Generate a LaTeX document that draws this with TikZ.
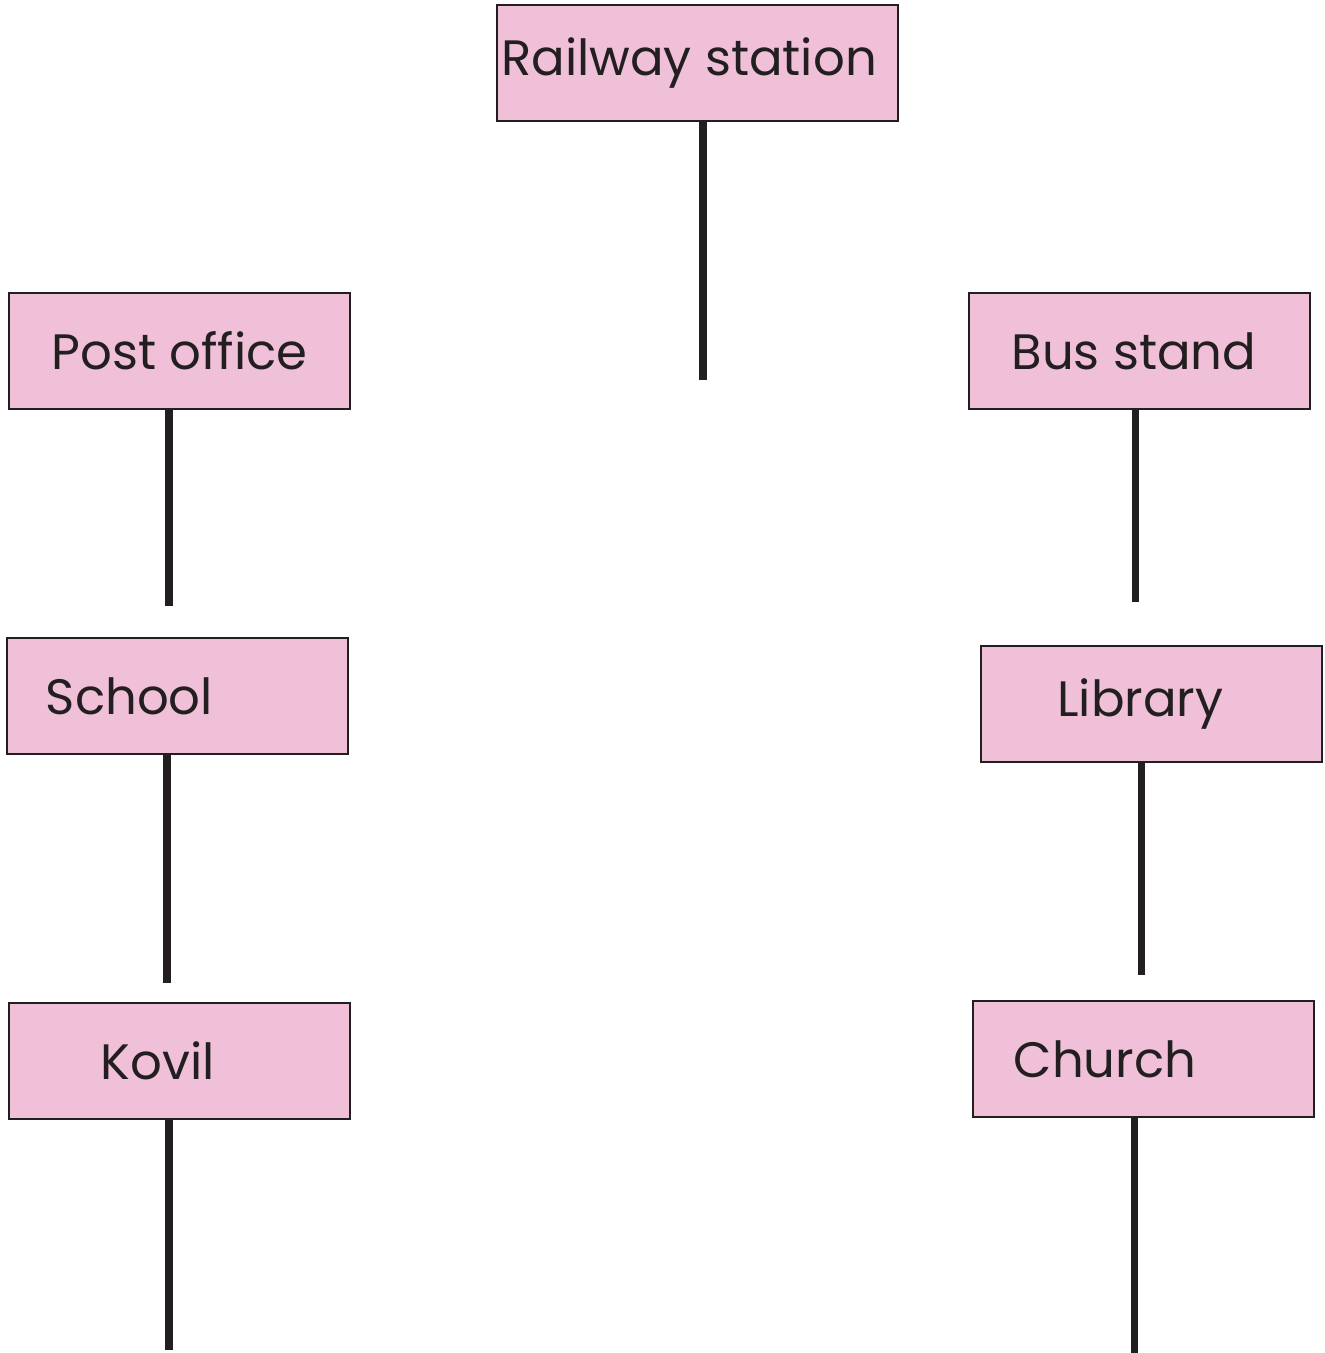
\documentclass[tikz,border=0pt]{standalone}
\usepackage{fontspec}
\setmainfont{Poppins}
\usepackage{tikz}
\usetikzlibrary{positioning}
\usepackage{xcolor}
\definecolor{signpink}{HTML}{F0C0D8}
\definecolor{signink}{HTML}{231F20}

\begin{document}
\begin{tikzpicture}[
  sign/.style={draw=signink,line width=1.1pt,fill=signpink,minimum width=6.82cm,minimum height=2.32cm,inner sep=0pt,text=signink,font=\fontsize{28.3}{33}\selectfont},
  pole/.style={draw=signink,line width=4pt}
]
\useasboundingbox (0,0) rectangle (26.48,-27.06);
\node[sign,minimum width=8.02cm] (rail) at (13.95,-1.26) {Railway station\hspace*{0.34cm}};
\node[sign] (post) at (3.59,-7.02) {Post office};
\node[sign] (bus) at (22.79,-7.02) {Bus stand\hspace*{0.22cm}};
\node[sign] (school) at (3.55,-13.92) {School\hspace*{1.92cm}};
\node[sign] (library) at (23.03,-14.08) {Library\hspace*{0.44cm}};
\node[sign] (kovil) at (3.59,-21.22) {Kovil\hspace*{0.88cm}};
\node[sign] (church) at (22.87,-21.18) {Church\hspace*{1.54cm}};
% free ends of the poles
\coordinate (railend) at (14.06,-7.6);
\coordinate (postend) at (3.38,-12.12);
\coordinate (busend) at (22.70,-12.04);
\coordinate (schoolend) at (3.34,-19.66);
\coordinate (libraryend) at (22.82,-19.5);
\coordinate (kovilend) at (3.38,-27.0);
\coordinate (churchend) at (22.68,-27.06);
\draw[pole] (rail.south -| railend) -- (railend);
\draw[pole] (post.south -| postend) -- (postend);
\draw[pole] (bus.south -| busend) -- (busend);
\draw[pole] (school.south -| schoolend) -- (schoolend);
\draw[pole] (library.south -| libraryend) -- (libraryend);
\draw[pole] (kovil.south -| kovilend) -- (kovilend);
\draw[pole] (church.south -| churchend) -- (churchend);
\end{tikzpicture}
\end{document}
